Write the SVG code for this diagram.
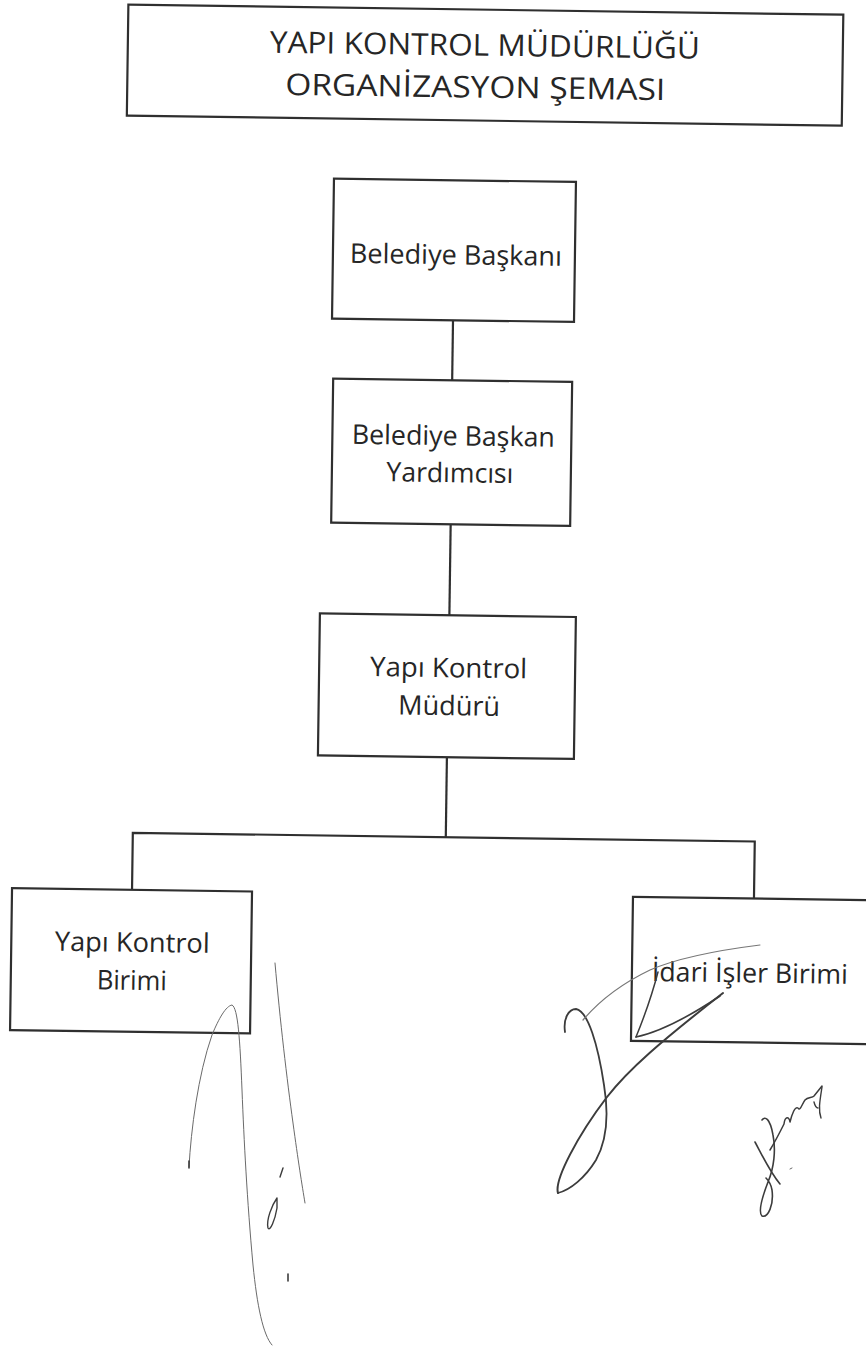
<svg xmlns="http://www.w3.org/2000/svg" width="866" height="1358" viewBox="0 0 866 1358">
<style>
.box{fill:none;stroke:#2f2f2f;stroke-width:2.2}
.con{fill:none;stroke:#2f2f2f;stroke-width:2.2}
.lbl{font-family:"Open Sans","Noto Sans","Liberation Sans",sans-serif;font-size:27px;fill:#262626;text-anchor:middle}
.ttl{font-family:"Open Sans","Noto Sans","Liberation Sans",sans-serif;font-size:30px;fill:#262626;text-anchor:middle}
.sig{fill:none;stroke:#3c3c3c;stroke-width:1.8;stroke-linecap:round;stroke-linejoin:round}
.sigt{fill:none;stroke:#6a6a6a;stroke-width:1;stroke-linecap:round}
</style>
<rect width="866" height="1358" fill="#ffffff"/>
<g id="diagram" transform="rotate(0.8 433 679)">
  <g id="connectors">
    <line class="con" x1="448" y1="320" x2="448" y2="380"/>
    <line class="con" x1="448.5" y1="524" x2="448.5" y2="615"/>
    <line class="con" x1="448" y1="757" x2="448" y2="837"/>
    <polyline class="con" points="135,894 135,837 757,837 757,894"/>
  </g>
  <g id="title">
    <rect class="box" x="119" y="9" width="715" height="111"/>
    <text class="ttl" x="476" y="55" textLength="430" lengthAdjust="spacingAndGlyphs">YAPI KONTROL MÜDÜRLÜĞÜ</text>
    <text class="ttl" x="467" y="97" textLength="380" lengthAdjust="spacingAndGlyphs">ORGANİZASYON ŞEMASI</text>
  </g>
  <g id="node-belediye-baskani">
    <rect class="box" x="327" y="180" width="242" height="140"/>
    <text class="lbl" x="450" y="264" textLength="212" lengthAdjust="spacingAndGlyphs">Belediye Başkanı</text>
  </g>
  <g id="node-baskan-yardimcisi">
    <rect class="box" x="329" y="380" width="239" height="144"/>
    <text class="lbl" x="450" y="445" textLength="203" lengthAdjust="spacingAndGlyphs">Belediye Başkan</text>
    <text class="lbl" x="447" y="482" textLength="127" lengthAdjust="spacingAndGlyphs">Yardımcısı</text>
  </g>
  <g id="node-yapi-kontrol-muduru">
    <rect class="box" x="319" y="615" width="256" height="142"/>
    <text class="lbl" x="448.5" y="677" textLength="157" lengthAdjust="spacingAndGlyphs">Yapı Kontrol</text>
    <text class="lbl" x="449.5" y="715" textLength="102" lengthAdjust="spacingAndGlyphs">Müdürü</text>
  </g>
  <g id="node-yapi-kontrol-birimi">
    <rect class="box" x="15" y="894" width="240" height="142"/>
    <text class="lbl" x="136" y="956" textLength="155" lengthAdjust="spacingAndGlyphs">Yapı Kontrol</text>
    <text class="lbl" x="136" y="994" textLength="70" lengthAdjust="spacingAndGlyphs">Birimi</text>
  </g>
  <g id="node-idari-isler-birimi">
    <rect class="box" x="636" y="894" width="240" height="144"/>
    <text class="lbl" x="754" y="978" textLength="196" lengthAdjust="spacingAndGlyphs">İdari İşler Birimi</text>
  </g>
</g>
<g id="signatures">
  <path class="sigt" d="M189,1167 C191,1130 198,1075 212,1035 C219,1018 226,1006 232,1005 C238,1008 240,1040 242,1090 C244,1140 247,1200 253,1265 C257,1305 263,1335 272,1345"/>
  <path class="sig" style="stroke-width:1.6" d="M189,1161 L189,1168"/>
  <path class="sigt" d="M275,963 C280,1020 287,1080 293,1123 C298,1160 302,1185 305,1203"/>
  <path class="sig" style="stroke-width:1.4" d="M277,1198 C272,1205 266,1220 268,1228 C270,1232 275,1220 277,1208 Z"/>
  <path class="sig" style="stroke-width:1.4" d="M280,1177 L283,1168"/>
  <path class="sig" style="stroke-width:1.6" d="M288,1274 L288,1281"/>
  <path class="sig" d="M565,1032 C563,1018 569,1009 576,1009 C588,1011 598,1045 604,1085 C609,1115 607,1140 596,1160 C585,1178 570,1190 558,1193"/>
  <path class="sig" style="stroke-width:2" d="M558,1193 C554,1180 578,1135 607,1097 C628,1070 660,1042 723,993"/>
  <path class="sigt" style="stroke:#777;stroke-width:1.2" d="M583,1020 C600,1000 625,982 650,970 C680,957 720,950 760,945"/>
  <path class="sig" style="stroke-width:1.5" d="M636,1037 C645,1015 652,995 658,972"/>
  <path class="sig" style="stroke-width:1.6" d="M636,1037 C660,1032 690,1016 720,996"/>
  <path class="sig" style="stroke-width:1.6" d="M755,1142 C762,1155 770,1172 780,1184"/>
  <path class="sig" style="stroke-width:1.6" d="M762,1120 C765,1116 770,1118 773,1135 C776,1150 774,1168 768,1182 C763,1195 758,1212 762,1216 C768,1218 774,1205 772,1190 C771,1184 768,1180 766,1178"/>
  <path class="sig" style="stroke-width:1.5" d="M770,1150 C776,1140 781,1130 784,1124 C785,1116 789,1116 790,1122 C792,1114 795,1106 798,1108 C800,1112 802,1104 805,1100 C808,1097 812,1098 814,1096 L822,1086"/>
  <path class="sig" style="stroke-width:1.4" d="M822,1087 C820,1100 818,1110 821,1118 M814,1102 C815,1106 816,1108 818,1108"/>
  <path class="sigt" d="M790,1169 L792,1168"/>
</g>
</svg>
